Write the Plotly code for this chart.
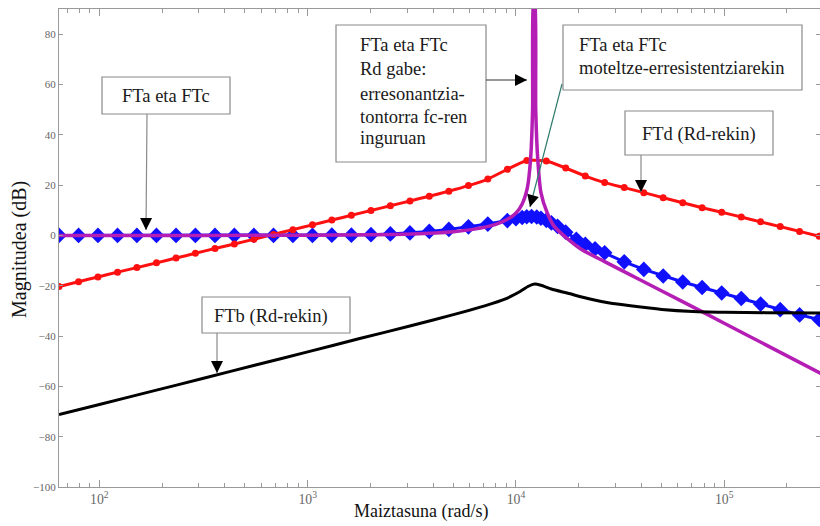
import numpy as np
import plotly.graph_objects as go

# ---------------- data ----------------
# log10 of frequency (rad/s) at the marker positions
grid_log = [1.806, 1.900, 1.993, 2.087, 2.180, 2.274, 2.368, 2.461, 2.555, 2.648,
            2.742, 2.836, 2.929, 3.023, 3.116, 3.210, 3.304, 3.397, 3.491, 3.584,
            3.678, 3.772, 3.865, 3.959, 4.052, 4.146, 4.239, 4.333, 4.426, 4.520,
            4.614, 4.707, 4.801, 4.894, 4.988, 5.082, 5.175, 5.269, 5.362, 5.456]
# FTd (Rd-rekin), red circles
ftd_db = [-20.3, -18.4, -16.5, -14.6, -12.8, -10.9, -9.0, -7.1, -5.2, -3.4,
          -1.5, 0.4, 2.3, 4.2, 6.1, 8.0, 9.9, 11.8, 13.7, 15.6,
          17.6, 19.8, 22.4, 26.3, 29.8, 29.6, 26.8, 23.6, 21.0, 19.0,
          17.0, 15.0, 13.0, 11.0, 9.2, 7.3, 5.4, 3.5, 1.6, -0.3]

# FTa eta FTc moteltze-erresistentziarekin, blue diamonds
ftac_rd_log = [1.806, 1.900, 1.993, 2.087, 2.180, 2.274, 2.368, 2.461, 2.555, 2.648,
               2.742, 2.836, 2.929, 3.023, 3.116, 3.210, 3.304, 3.397, 3.491, 3.584,
               3.678, 3.772, 3.865, 3.959, 4.000, 4.030, 4.052, 4.075, 4.100, 4.120,
               4.146, 4.170, 4.200, 4.239, 4.290, 4.333, 4.380, 4.426, 4.520, 4.614,
               4.707, 4.801, 4.894, 4.988, 5.082, 5.175, 5.269, 5.362, 5.456]
ftac_rd_db = [0.0, 0.0, 0.0, 0.0, 0.0, 0.0, 0.0, 0.0, 0.0, 0.0,
              0.0, 0.0, 0.0, 0.0, 0.1, 0.1, 0.3, 0.6, 1.0, 1.6,
              2.4, 3.4, 4.5, 5.9, 6.6, 7.1, 7.4, 7.5, 7.3, 6.8,
              6.0, 5.0, 3.6, 1.3, -1.5, -3.5, -5.3, -6.9, -10.5, -13.5,
              -16.1, -18.5, -20.7, -22.9, -25.1, -27.3, -29.5, -31.6, -33.4]

# FTa eta FTc Rd gabe (resonance), magenta line
ftac_log = [1.806, 2.5, 3.0, 3.3, 3.5, 3.7, 3.8, 3.9, 3.95, 4.0,
            4.03, 4.055, 4.07, 4.08, 4.085, 4.09, 4.095, 4.105, 4.12, 4.15,
            4.184, 4.25, 4.315, 4.426, 4.6, 4.8, 5.0, 5.2, 5.49]
ftac_db = [0.0, 0.0, 0.1, 0.3, 0.6, 1.5, 2.5, 4.3, 6.0, 8.8,
           12.5, 19.0, 30.0, 50.0, 95.0, 95.0, 50.0, 30.0, 17.0, 9.0,
           3.6, -1.5, -5.6, -10.4, -17.8, -26.3, -34.9, -43.5, -56.0]

# FTb (Rd-rekin), black line
ftb_log = [1.806, 2.0, 2.25, 2.5, 2.75, 3.0, 3.25, 3.5, 3.7, 3.85,
           3.95, 4.02, 4.06, 4.09, 4.12, 4.17, 4.25, 4.35, 4.45, 4.55,
           4.7, 4.85, 5.0, 5.2, 5.49]
ftb_db = [-71.2, -67.2, -62.0, -56.8, -51.5, -46.3, -41.0, -35.8, -31.5, -28.0,
          -25.2, -22.3, -20.2, -19.3, -19.8, -21.3, -23.0, -25.2, -26.9, -28.0,
          -29.4, -30.2, -30.5, -30.7, -30.8]

y_ticks = [-100, -80, -60, -40, -20, 0, 20, 40, 60, 80]
x_range_log = [1.806, 5.46]
y_range = [-100, 90]

# ---------------- figure ----------------
def hz(v):
    return np.power(10.0, np.array(v))

fig = go.Figure()
fig.add_trace(go.Scatter(x=hz(ftac_rd_log), y=ftac_rd_db, mode="lines+markers",
                         line=dict(color="#1010ff", width=3),
                         marker=dict(symbol="diamond", size=12, color="#1010ff"),
                         showlegend=False))
fig.add_trace(go.Scatter(x=hz(grid_log), y=ftd_db, mode="lines+markers",
                         line=dict(color="#ff1010", width=3, shape="spline", smoothing=0.5),
                         marker=dict(symbol="circle", size=7, color="#ff1010"),
                         showlegend=False))
fig.add_trace(go.Scatter(x=hz(ftac_log), y=ftac_db, mode="lines",
                         line=dict(color="#b41eb4", width=3.5, shape="spline", smoothing=0.6),
                         showlegend=False))
fig.add_trace(go.Scatter(x=hz(ftb_log), y=ftb_db, mode="lines",
                         line=dict(color="#000000", width=3, shape="spline", smoothing=0.6),
                         showlegend=False))

W, H = 820, 526
# plot area in pixels: left 59, top 9, bottom 487, right 820
L, T, B, R = 59, 9, H - 487, 0
PW, PH = W - L - R, H - T - B

def px(x):
    return (x - L) / PW

def py(y):
    return (H - B - y) / PH

SERIF = "Liberation Serif, Times New Roman, serif"
shapes = []
annotations = []

def box(x0, y0, x1, y1):
    shapes.append(dict(type="rect", xref="paper", yref="paper",
                       x0=px(x0), x1=px(x1), y0=py(y1), y1=py(y0),
                       fillcolor="white", line=dict(color="#8a8a8a", width=1.2), layer="above"))

def text(x, y, s, anchor="left", size=18.5):
    annotations.append(dict(xref="paper", yref="paper", x=px(x), y=py(y), text=s,
                            showarrow=False, xanchor=anchor, yanchor="middle",
                            font=dict(family=SERIF, size=size, color="#1a1a1a")))

def arrow(x0, y0, x1, y1, linecolor="#8a8a8a"):
    # line from tail (x0,y0) to tip (x1,y1), pixel coords
    shapes.append(dict(type="line", xref="paper", yref="paper",
                       x0=px(x0), y0=py(y0), x1=px(x1), y1=py(y1),
                       line=dict(color=linecolor, width=1.2), layer="above"))
    d = np.hypot(x0 - x1, y0 - y1)
    k = 12.0 / d
    annotations.append(dict(xref="paper", yref="paper", x=px(x1), y=py(y1),
                            ax=(x0 - x1) * k, ay=(y0 - y1) * k, text="", showarrow=True,
                            arrowhead=2, arrowsize=2.0, arrowwidth=1.2,
                            arrowcolor="#000000", standoff=0))

# Box 1
box(102, 77, 230, 114)
text(166, 96, "FTa eta FTc", anchor="center")
arrow(147, 114, 146, 230)

# Box 2
box(336, 25, 486, 162)
for yy, s in zip([45, 69, 94, 117, 138],
                 ["FTa eta FTc", "Rd gabe:", "erresonantzia-", "tontorra fc-ren", "inguruan"]):
    text(358, yy, s)
arrow(486, 80, 527, 80, linecolor="#333333")

# Box 3
box(563, 25, 802, 90)
text(577, 45, "FTa eta FTc")
text(577, 68, "moteltze-erresistentziarekin")
arrow(562, 84, 530, 207, linecolor="#2e7d6e")

# Box 4
box(625, 111, 773, 155)
text(699, 134, "FTd (Rd-rekin)", anchor="center")
arrow(641, 155, 641, 192)

# Box 5
box(202, 297, 350, 333)
text(271, 316, "FTb (Rd-rekin)", anchor="center")
arrow(217, 333, 217, 373)

# axis titles
annotations.append(dict(xref="paper", yref="paper", x=px(421), y=py(512), text="Maiztasuna (rad/s)",
                        showarrow=False, xanchor="center", yanchor="middle",
                        font=dict(family=SERIF, size=18, color="#111111")))
annotations.append(dict(xref="paper", yref="paper", x=px(20), y=py(250), text="Magnitudea (dB)",
                        showarrow=False, xanchor="center", yanchor="middle", textangle=-90,
                        font=dict(family=SERIF, size=20, color="#111111")))

fig.update_layout(
    width=W, height=H,
    margin=dict(l=L, r=R, t=T, b=B, pad=0),
    paper_bgcolor="white", plot_bgcolor="white",
    hovermode=False,
    shapes=shapes, annotations=annotations,
    xaxis=dict(type="log", range=x_range_log, showgrid=False, zeroline=False,
               showline=True, linecolor="#9a9a9a", linewidth=1, mirror="ticks",
               ticks="inside", ticklen=7, tickcolor="#9a9a9a", dtick=1,
               exponentformat="power",
               minor=dict(ticks="inside", ticklen=4, tickcolor="#9a9a9a", dtick="D1", showgrid=False),
               tickfont=dict(family=SERIF, size=11, color="#666666")),
    yaxis=dict(range=y_range, showgrid=False, zeroline=False,
               showline=True, linecolor="#9a9a9a", linewidth=1, mirror="ticks",
               ticks="inside", ticklen=4, tickcolor="#9a9a9a",
               tickvals=y_ticks,
               tickfont=dict(family=SERIF, size=11, color="#666666")),
)

fig.write_html("out.html", config={"displayModeBar": False},
               post_script="document.body.style.margin='0';document.body.style.overflow='hidden';")
